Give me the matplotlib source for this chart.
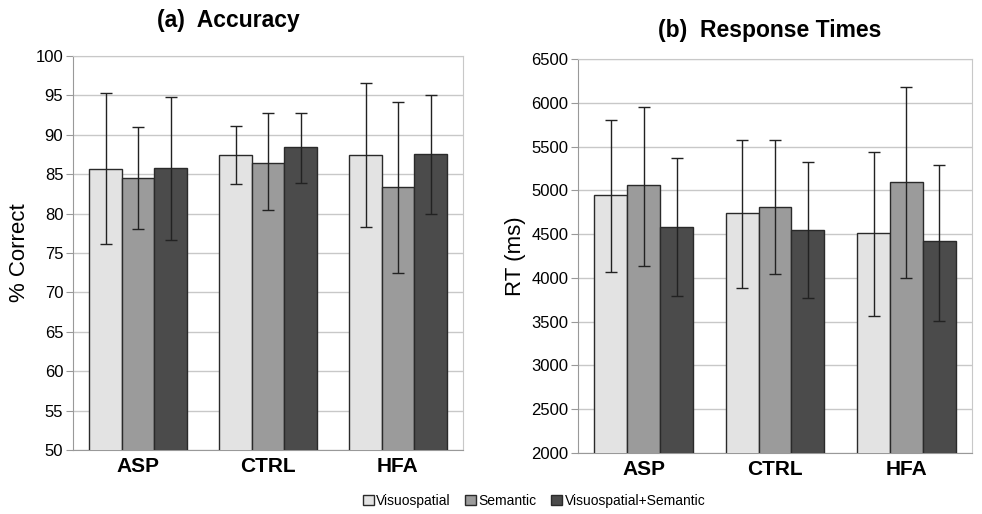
import matplotlib
matplotlib.use("Agg")
import matplotlib.pyplot as plt
import numpy as np
from matplotlib.patches import Patch

groups = ["ASP", "CTRL", "HFA"]
conditions = ["Visuospatial", "Semantic", "Visuospatial+Semantic"]

acc_mean = [[85.7, 87.4, 87.4],
            [84.5, 86.4, 83.4],
            [85.8, 88.5, 87.6]]
acc_hi = [[95.3, 91.1, 96.6],
          [91.0, 92.8, 94.2],
          [94.8, 92.8, 95.1]]
acc_lo = [[76.1, 83.8, 78.3],
          [78.0, 80.4, 72.4],
          [76.7, 83.9, 80.0]]

rt_mean = [[4945, 4736, 4511],
           [5060, 4812, 5098],
           [4579, 4545, 4416]]
rt_hi = [[5803, 5574, 5437],
         [5955, 5574, 6184],
         [5364, 5326, 5288]]
rt_lo = [[4069, 3882, 3562],
         [4141, 4046, 4000],
         [3790, 3775, 3505]]

colors = ["#e3e3e3", "#9b9b9b", "#4b4b4b"]
edge = "#2a2a2a"

W, H = 982, 514
fig = plt.figure(figsize=(W / 100, H / 100), dpi=100)
plt.rcParams['font.family'] = ['Liberation Sans', 'DejaVu Sans']

def make_ax(rect, means, his, los, ylim, yticks, ylabel, title, title_xy):
    ax = fig.add_axes(rect)
    x = np.arange(len(groups))
    bw = 0.25
    for i in range(3):
        m = np.array(means[i])
        hi = np.array(his[i]) - m
        lo = m - np.array(los[i])
        pos = x + (i - 1) * bw
        ax.bar(pos, m, width=bw, color=colors[i], edgecolor=edge, linewidth=1.0,
               zorder=3)
        ax.errorbar(pos, m, yerr=[lo, hi], fmt="none", ecolor="#222222",
                    elinewidth=1.0, capsize=4, capthick=1.0, zorder=4)
    ax.set_xlim(-0.5, 2.5)
    ax.set_ylim(*ylim)
    ax.set_yticks(yticks)
    ax.yaxis.grid(True, color="#c8c8c8", linewidth=1.0, zorder=0)
    ax.set_axisbelow(True)
    for s in ax.spines.values():
        s.set_color("#c8c8c8")
    ax.spines["left"].set_color("#999999")
    ax.spines["bottom"].set_color("#999999")
    ax.tick_params(axis="y", length=5, color="#999999", labelsize=12, pad=2)
    for lab in ax.get_yticklabels():
        lab.set_fontstretch("condensed")
    ax.set_xticks(x)
    ax.set_xticklabels(groups, fontweight="bold", fontsize=15)
    ax.tick_params(axis="x", length=0, pad=5)
    ax.set_ylabel(ylabel, fontsize=16, labelpad=4)
    fig.text(title_xy[0], title_xy[1], title, fontsize=16.5, fontweight="bold",
             ha="center", va="center")
    return ax

make_ax([73 / W, 1 - 450 / H, 390 / W, 394 / H], acc_mean, acc_hi, acc_lo,
        (50, 100), np.arange(50, 101, 5), "% Correct", "(a)  Accuracy",
        (228 / W, 1 - 21 / H))
make_ax([578 / W, 1 - 453 / H, 394 / W, 394 / H], rt_mean, rt_hi, rt_lo,
        (2000, 6500), np.arange(2000, 6501, 500), "RT (ms)", "(b)  Response Times",
        (770 / W, 1 - 31 / H))

handles = [Patch(facecolor=c, edgecolor=edge, linewidth=1.0) for c in colors]
fig.legend(handles, conditions, loc="center", bbox_to_anchor=(534 / W, 1 - 501 / H),
           ncol=3, frameon=False, fontsize=10, handlelength=0.8, handleheight=0.8,
           handletextpad=0.2, columnspacing=1.0, borderpad=0)

fig.savefig("out.png", dpi=100)
